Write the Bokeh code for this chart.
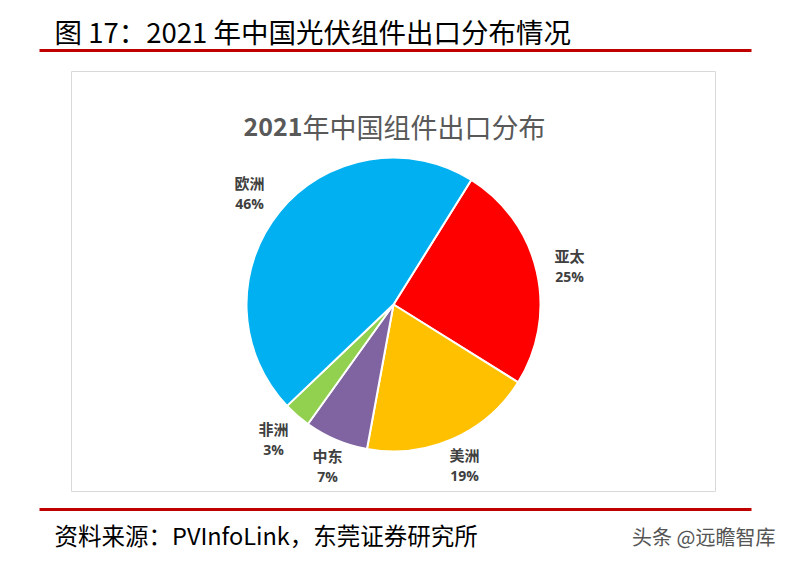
from bokeh.plotting import figure
from bokeh.models import Range1d, ColumnDataSource
from bokeh.core.properties import value
from bokeh.embed import file_html
from bokeh.resources import INLINE
import math

# ---- data ----
regions = ["亚太", "美洲", "中东", "非洲", "欧洲"]
shares = [25, 19, 7, 3, 46]
colors = ["#FF0000", "#FFC000", "#8064A2", "#92D050", "#00B0F0"]
pct_labels = ["25%", "19%", "7%", "3%", "46%"]
label_x = [569, 464, 327, 273, 249]
label_y = [255, 454, 455, 428, 182]

title = "图 17：2021 年中国光伏组件出口分布情况"
chart_title_num = "2021"
chart_title_rest = "年中国组件出口分布"
source_text = "资料来源：PVInfoLink，东莞证券研究所"
watermark = "头条 @远瞻智库"

W, H = 789, 565
def Y(y):
    return H - y

p = figure(width=781, height=557, output_backend="svg", toolbar_location=None,
           x_range=Range1d(0, 781), y_range=Range1d(8, 565), min_border=0)
p.axis.visible = False
p.grid.visible = False
p.outline_line_color = None
p.background_fill_color = "white"
p.border_fill_color = "white"

CJK = value("Noto Sans CJK SC")

# header
p.text(x=[54], y=[Y(30)], text=[title], text_font=CJK, text_font_size="27.5px",
       text_color="#000000", text_baseline="middle", text_align="left")
p.segment(x0=[39], y0=[Y(50)], x1=[751], y1=[Y(50)], line_color="#C00000", line_width=3)

# chart box
p.quad(left=[71], right=[715], top=[Y(71)], bottom=[Y(491)], fill_color="white",
       line_color="#D9D9D9", line_width=1)

# inner title
p.text(x=[302], y=[Y(126)], text=[chart_title_num], text_font=CJK, text_font_size="25px",
       text_font_style="bold", text_color="#595959", text_baseline="middle", text_align="right")
p.text(x=[302], y=[Y(126)], text=[chart_title_rest], text_font=CJK, text_font_size="27px",
       text_color="#595959", text_baseline="middle", text_align="left")

# pie
cx, cy, r = 393, 304, 147
start_deg = 32.0
total = sum(shares)
starts, ends = [], []
t = start_deg
for s in shares:
    t1 = t + s / total * 360.0
    starts.append(math.radians(90 - t))
    ends.append(math.radians(90 - t1))
    t = t1
src = ColumnDataSource(dict(start=starts, end=ends, color=colors,
                            x=[cx] * len(shares), y=[Y(cy)] * len(shares)))
p.wedge(x="x", y="y", radius=r, start_angle="start", end_angle="end", direction="clock",
        fill_color="color", line_color="white", line_width=2, source=src)

# labels
lab = ColumnDataSource(dict(x=label_x, y=[Y(v) for v in label_y], name=regions,
                            y2=[Y(v + 21) for v in label_y], pct=pct_labels))
p.text(x="x", y="y", text="name", source=lab, text_font=CJK, text_font_size="15px",
       text_font_style="bold", text_color="#404040", text_align="center", text_baseline="middle")
p.text(x="x", y="y2", text="pct", source=lab, text_font=value("Open Sans"), text_font_size="14px",
       text_font_style="bold", text_color="#404040", text_align="center", text_baseline="middle")

# footer
p.segment(x0=[39], y0=[Y(509)], x1=[751], y1=[Y(509)], line_color="#C00000", line_width=3)
p.text(x=[54], y=[Y(534)], text=[source_text], text_font=CJK, text_font_size="23.5px",
       text_color="#000000", text_baseline="middle", text_align="left")
p.text(x=[775], y=[Y(536)], text=[watermark], text_font=CJK, text_font_size="20px",
       text_color="#555555", text_baseline="middle", text_align="right")

open("out.html", "w").write(file_html(p, INLINE))
